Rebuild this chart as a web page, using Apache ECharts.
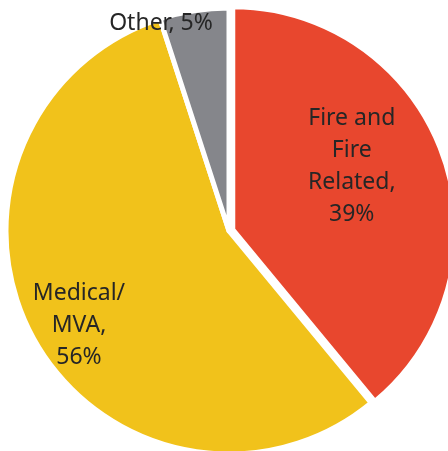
<!DOCTYPE html>
<html>
<head>
<meta charset="utf-8">
<style>
  html, body { margin: 0; padding: 0; background: #ffffff; }
  #chart { width: 448px; height: 451px; }
</style>
<script src="https://cdn.jsdelivr.net/npm/echarts@6/dist/echarts.min.js"></script>
</head>
<body>
<div id="chart"></div>
<script>
// Call categories and their shares (%)
const categories = ['Fire and\nFire\nRelated', 'Medical/\nMVA', 'Other'];
const shares = [39, 56, 5];
const colors = ['#E8472E', '#F1C21B', '#85868B'];
// Label anchor points (centre of each text block)
const labelAnchors = [[348, 168], [79, 325], [161, 23]];

const chart = echarts.init(document.getElementById('chart'), null, { renderer: 'canvas' });

const data = categories.map((name, i) => ({
  name: name,
  value: shares[i],
  selected: i === 0,
  itemStyle: { color: colors[i] },
  label: {
    formatter: i === 2 ? '{b}, {c}%' : '{b},\n{c}%'
  }
}));

chart.setOption({
  animation: false,
  series: [{
    type: 'pie',
    center: [229, 231],
    radius: [0, 223],
    startAngle: 90,
    clockwise: true,
    selectedMode: 'single',
    selectedOffset: 4,
    itemStyle: { borderColor: '#ffffff', borderWidth: 5 },
    label: {
      show: true,
      position: 'inside',
      color: '#262626',
      fontFamily: 'Noto Sans',
      fontSize: 23,
      lineHeight: 32,
      align: 'center'
    },
    labelLine: { show: false },
    emphasis: { disabled: true },
    labelLayout: function (params) {
      const p = labelAnchors[params.dataIndex];
      const r = params.labelRect;
      // place the text block so its centre sits on the anchor
      return { dx: p[0] - (r.x + r.width / 2), dy: p[1] - (r.y + r.height / 2) };
    },
    data: data
  }]
});
</script>
</body>
</html>
